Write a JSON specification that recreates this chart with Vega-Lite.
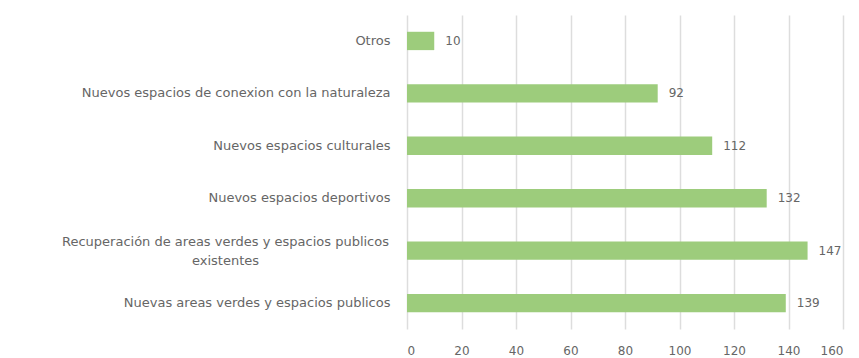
{
  "$schema": "https://vega.github.io/schema/vega-lite/v6.json",
  "autosize": "none",
  "width": 436,
  "height": 314,
  "padding": {"left": 407, "top": 15, "right": 16, "bottom": 29},
  "background": "white",
  "config": {"view": {"stroke": null}, "font": "DejaVu Sans"},
  "data": {"values": [
    {"categoria": "Otros", "valor": 10},
    {"categoria": "Nuevos espacios de conexion con la naturaleza", "valor": 92},
    {"categoria": "Nuevos espacios culturales", "valor": 112},
    {"categoria": "Nuevos espacios deportivos", "valor": 132},
    {"categoria": "Recuperación de areas verdes y espacios publicos|existentes", "valor": 147},
    {"categoria": "Nuevas areas verdes y espacios publicos", "valor": 139}
  ]},
  "encoding": {
    "y": {"field": "categoria", "type": "nominal", "sort": null,
      "scale": {"paddingInner": 0.65, "paddingOuter": 0.32},
      "axis": {"title": null, "domain": false, "ticks": false, "grid": false,
        "labelExpr": "split(datum.label, '|')",
        "labelFontSize": 13, "labelColor": "#666666", "labelLimit": 500,
        "labelLineHeight": 19,
        "labelAlign": {"condition": {"test": "indexof(datum.value, '|') >= 0", "value": "center"}, "value": "right"},
        "labelOffset": {"condition": {"test": "indexof(datum.value, '|') >= 0", "value": -9}, "value": 0},
        "labelPadding": {"condition": {"test": "indexof(datum.value, '|') >= 0", "value": 182}, "value": 17}}},
    "x": {"field": "valor", "type": "quantitative",
      "scale": {"domain": [0, 160]},
      "axis": {"title": null, "domain": false, "ticks": false, "tickCount": 8,
        "gridColor": "#dddddd", "gridWidth": 1.5,
        "labelFontSize": 12, "labelColor": "#666666", "labelPadding": 16}}
  },
  "layer": [
    {"mark": {"type": "bar", "color": "#9dcc7c"}},
    {"mark": {"type": "text", "align": "left", "dx": 11, "fontSize": 12, "color": "#666666"},
      "encoding": {"text": {"field": "valor", "type": "quantitative"}}}
  ]
}
